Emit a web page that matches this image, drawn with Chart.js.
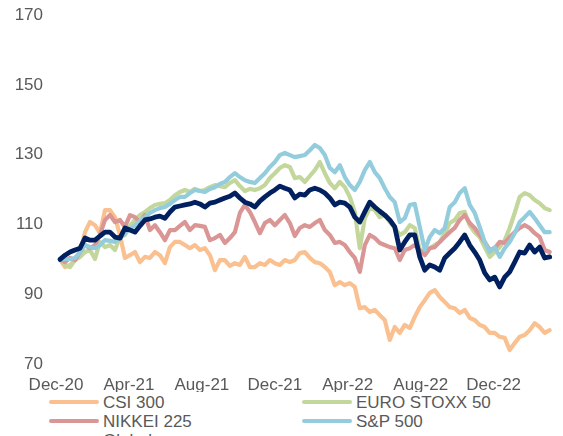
<!DOCTYPE html>
<html><head><meta charset="utf-8">
<script src="https://cdn.jsdelivr.net/npm/chart.js@4/dist/chart.umd.min.js"></script>
<style>
html,body{margin:0;padding:0;background:#fff;overflow:hidden;width:563px;height:436px}
#wrap{position:absolute;left:0;top:0;width:563px;height:392px}
#legend{position:absolute;left:0;top:392px;width:563px;height:44px;overflow:hidden;font:17px "Liberation Sans",Arial,sans-serif;color:#595959}
.item{position:absolute;height:19px;line-height:19px;white-space:nowrap}
.swatch{position:absolute;left:0;top:7.5px;width:50px;height:4px;border-radius:2px}
.label{position:absolute;left:54px;top:0}
</style></head>
<body>
<div id="wrap"><canvas id="c"></canvas></div>
<div id="legend"></div>
<script>
const seriesNames = ['CSI 300','EURO STOXX 50','NIKKEI 225','S&P 500','Global'];
const seriesColors = ['#FAC090','#C3D69B','#D99694','#93CDDD','#002060'];
const tickLabels = ['Dec-20','Apr-21','Aug-21','Dec-21','Apr-22','Aug-22','Dec-22'];
const tickMonths = [0,4,8,12,16,20,24];
// sampling dates, in months since end of Dec-2020
const sampleStartMonth = 0.22;
const sampleStepMonths = 0.274;

const csi300 = [100.0,97.8,98.4,99.8,101.8,107.8,110.7,109.8,107.5,114.1,
114.1,112.1,107.0,100.4,101.2,102.1,99.2,100.7,100.4,102.1,
101.2,98.9,103.5,105.0,105.0,104.1,103.2,104.1,102.7,103.2,
101.2,96.9,99.8,99.8,98.1,98.9,98.4,100.7,97.8,97.8,
98.9,98.4,99.8,98.9,98.4,99.8,99.2,99.8,101.8,102.1,
100.4,99.2,98.9,97.8,96.4,92.6,93.5,92.6,93.2,92.1,
86.0,86.3,84.9,85.5,84.0,82.6,76.9,80.6,78.9,81.2,
80.3,83.5,86.3,88.3,90.4,91.2,89.2,87.8,86.3,86.0,
84.6,85.5,83.2,82.6,81.2,80.6,78.9,78.9,77.8,77.5,
74.0,76.0,77.8,78.3,79.7,81.7,80.6,78.9,79.7];

const euroStoxx50 = [100.0,98.4,97.8,99.8,100.7,102.1,102.7,100.1,105.0,103.5,
104.1,102.7,106.4,107.0,109.6,111.3,112.7,113.6,114.7,115.6,
115.9,116.1,117.0,118.4,119.3,119.9,119.3,120.2,119.6,119.9,
120.7,121.3,121.0,120.7,121.9,122.7,121.0,119.6,120.2,119.9,
120.4,121.3,123.3,124.7,126.2,127.0,126.5,123.3,123.6,122.2,
123.9,125.6,127.9,124.7,121.9,120.4,122.2,120.7,117.9,113.6,
103.2,111.8,114.7,114.1,112.1,112.7,110.7,109.0,107.0,107.8,
109.8,109.0,102.7,101.8,103.2,104.1,105.0,107.5,110.4,111.3,
113.3,113.6,109.8,107.8,106.4,103.5,100.7,102.1,103.5,105.5,
109.0,113.3,117.9,119.0,118.4,117.0,116.1,114.7,114.1];

const nikkei225 = [100.0,99.2,100.4,99.8,102.1,104.1,103.2,104.1,107.0,111.3,
112.7,110.7,111.3,109.3,112.7,112.1,110.7,112.7,108.4,109.8,
107.8,105.5,108.4,108.4,109.6,110.7,108.4,109.8,109.6,109.3,
105.5,106.1,107.0,104.7,106.1,107.8,113.3,115.6,113.6,110.7,
107.5,110.4,111.3,109.8,111.3,112.7,110.4,106.7,109.0,109.8,
109.3,110.4,111.3,108.4,107.0,104.7,105.0,104.1,102.1,100.4,
96.4,104.1,107.0,106.1,104.7,104.1,103.5,103.2,99.8,102.7,
103.2,104.1,102.7,101.2,103.2,103.5,105.0,106.4,107.8,109.0,
111.3,112.7,110.4,109.0,107.0,105.0,102.7,103.2,105.0,104.7,
106.4,107.8,109.0,109.8,109.0,107.5,106.4,102.7,102.1];

const sp500 = [100.0,100.1,100.1,100.4,102.1,104.1,103.5,103.2,104.1,105.5,
105.3,105.0,106.1,107.5,108.7,109.8,111.0,112.1,113.3,114.1,
114.7,115.0,115.9,117.0,117.9,117.9,119.0,119.9,119.6,119.3,
120.2,120.7,121.6,122.2,123.6,124.7,123.6,122.7,122.2,121.9,
123.3,124.7,126.5,127.9,129.9,130.5,129.9,129.3,129.6,129.9,
131.3,132.8,131.9,129.9,126.2,125.0,127.0,123.6,121.3,119.9,
122.2,125.6,127.9,125.0,123.3,120.4,117.9,116.4,110.7,111.8,
115.6,115.9,109.3,102.7,106.4,108.4,107.5,109.0,115.0,116.4,
119.0,120.4,115.6,113.3,109.3,105.0,102.1,103.5,100.7,103.2,
105.0,107.5,110.7,112.1,113.6,111.8,109.8,107.8,107.8];

const globalEq = [100.0,101.2,102.1,102.7,103.2,106.1,105.5,105.5,106.7,107.8,
107.8,106.4,106.1,109.0,108.4,107.8,109.6,111.3,111.6,112.1,
112.4,111.8,113.6,115.0,115.3,115.6,115.9,116.4,115.9,115.0,
116.1,116.4,117.0,117.6,118.1,119.0,117.6,116.4,115.9,115.0,
116.7,117.9,119.0,119.9,121.0,120.4,119.9,117.6,118.7,118.4,
119.9,120.4,119.9,119.0,117.6,115.6,116.4,116.1,115.0,112.1,
110.7,113.6,116.4,115.0,113.8,112.7,111.3,109.3,102.7,105.0,
107.0,107.0,100.7,96.9,98.4,97.8,96.9,100.4,101.8,103.2,
105.0,107.0,104.1,102.1,99.8,96.1,94.1,94.9,92.1,94.9,
96.4,99.2,102.1,101.8,104.1,102.1,103.5,100.4,100.7];

const seriesValues = [csi300, euroStoxx50, nikkei225, sp500, globalEq];
const seriesWidths = [4.2,4.2,4.2,4.2,4.8];

const FONT = '"Liberation Sans", Arial, sans-serif';
const TXT = '#595959';

const datasets = seriesValues.map((vals, k) => ({
  label: seriesNames[k],
  data: vals.map((v, i) => ({x: sampleStartMonth + i * sampleStepMonths, y: v})),
  borderColor: seriesColors[k],
  backgroundColor: seriesColors[k],
  borderWidth: seriesWidths[k],
  pointRadius: 0,
  tension: 0,
  fill: false,
  clip: false,
  borderJoinStyle: 'round',
  borderCapStyle: 'round',
  order: seriesValues.length - k
}));

new Chart(document.getElementById('c'), {
  type: 'line',
  data: { datasets },
  options: {
    responsive: true,
    maintainAspectRatio: false,
    animation: false,
    devicePixelRatio: 1,
    layout: { padding: { top: 7, right: 11, left: 0, bottom: 0 } },
    plugins: { legend: { display: false }, tooltip: { enabled: false } },
    scales: {
      x: {
        type: 'linear', min: 0, max: 27.2,
        grid: { display: false }, border: { display: false },
        afterBuildTicks: s => { s.ticks = tickMonths.map(v => ({ value: v })); },
        afterFit: s => { s.height = 28; },
        ticks: {
          autoSkip: false, maxRotation: 0, padding: 3, color: TXT,
          font: { family: FONT, size: 17 },
          callback: v => tickLabels[tickMonths.indexOf(v)]
        }
      },
      y: {
        min: 70, max: 170,
        grid: { display: false }, border: { display: false },
        afterFit: s => { s.width = 56; },
        ticks: { stepSize: 20, padding: 5, color: TXT, font: { family: FONT, size: 17 } }
      }
    }
  }
});

// legend (two columns, rows of 19px)
const legend = document.getElementById('legend');
const colX = [49, 302];
seriesNames.forEach((name, k) => {
  const it = document.createElement('div');
  it.className = 'item';
  it.style.left = colX[k % 2] + 'px';
  it.style.top = (0.5 + Math.floor(k / 2) * 19) + 'px';
  const sw = document.createElement('div');
  sw.className = 'swatch';
  sw.style.background = seriesColors[k];
  const lb = document.createElement('div');
  lb.className = 'label';
  lb.textContent = name;
  it.appendChild(sw); it.appendChild(lb);
  legend.appendChild(it);
});
</script>
</body></html>
